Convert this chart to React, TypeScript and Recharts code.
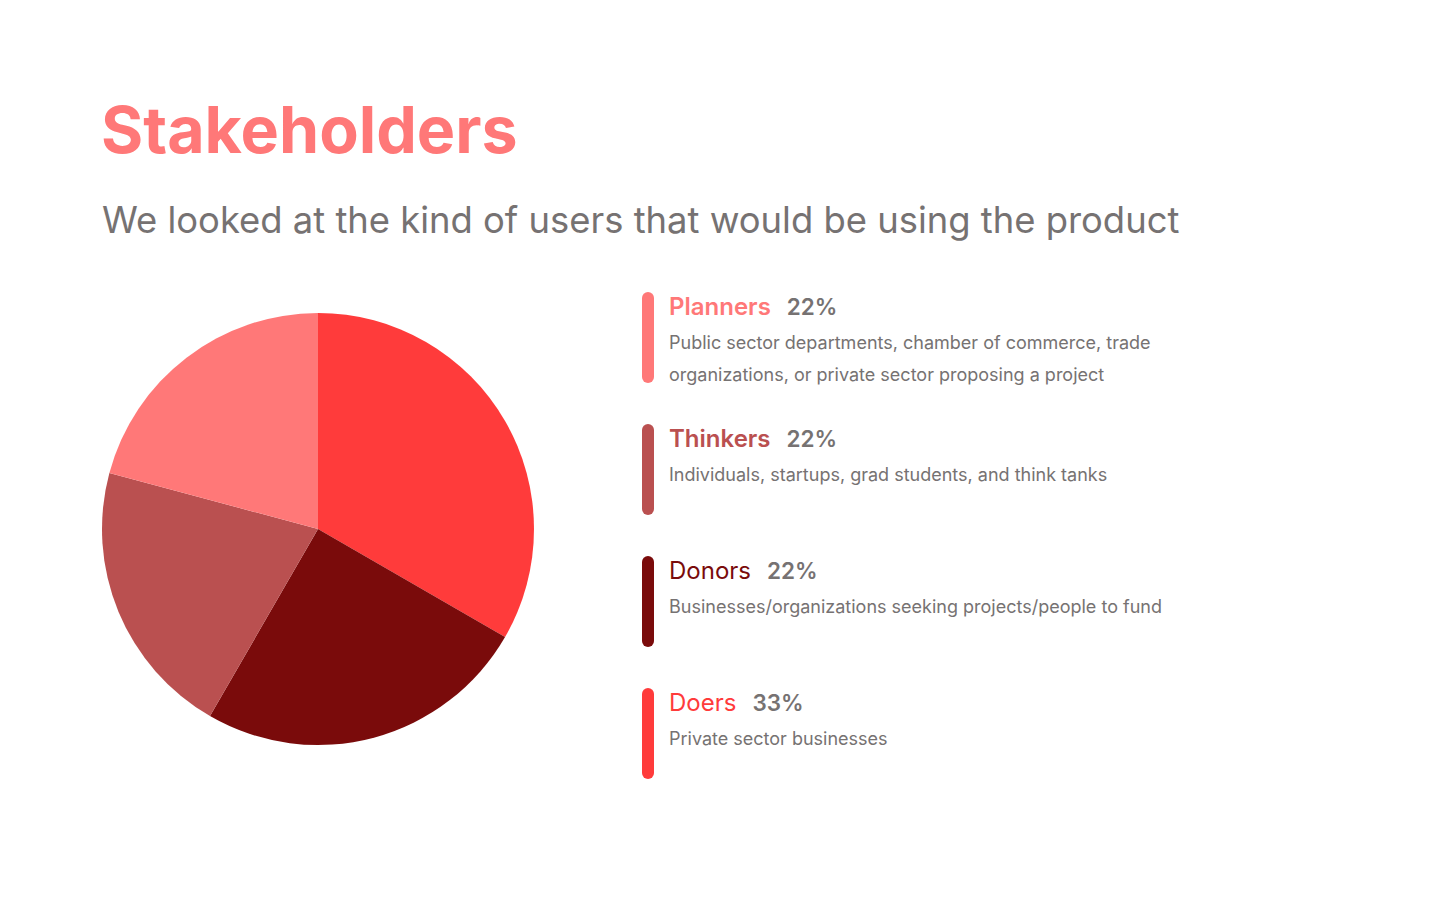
import React from "react";
import { PieChart, Pie, Cell } from "recharts";

const categories = ["Doers", "Donors", "Thinkers", "Planners"];
const sliceValues = [8, 6, 5, 5];
const sliceColors = ["#FF3B3B", "#7A0B0B", "#BA5050", "#FF7878"];

const legendNames = ["Planners", "Thinkers", "Donors", "Doers"];
const legendPercents = ["22%", "22%", "22%", "33%"];
const legendColors = ["#FF7878", "#BA5050", "#7A0B0B", "#FF3B3B"];
const legendWeights = [600, 600, 400, 400];
const legendDescriptions = [
  ["Public sector departments, chamber of commerce, trade", "organizations, or private sector proposing a project"],
  ["Individuals, startups, grad students, and think tanks"],
  ["Businesses/organizations seeking projects/people to fund"],
  ["Private sector businesses"],
];

const pieData = categories.map((name, i) => ({ name, value: sliceValues[i] }));

export default function App() {
  return (
    <div
      style={{
        position: "fixed",
        left: 0,
        top: 0,
        width: 1440,
        height: 900,
        background: "#ffffff",
        fontFamily: "Inter, 'Noto Sans', sans-serif",
        overflow: "hidden",
      }}
    >
      <div
        style={{
          position: "absolute",
          left: 101,
          top: 88,
          fontSize: 64.5,
          fontWeight: 700,
          color: "#FF7878",
          lineHeight: "84px",
        }}
      >
        Stakeholders
      </div>
      <div
        style={{
          position: "absolute",
          left: 102,
          top: 197,
          fontSize: 36.4,
          fontWeight: 400,
          color: "#767272",
          lineHeight: "46px",
          whiteSpace: "nowrap",
        }}
      >
        We looked at the kind of users that would be using the product
      </div>

      <div style={{ position: "absolute", left: 98, top: 309 }}>
        <PieChart width={440} height={440} margin={{ top: 0, right: 0, bottom: 0, left: 0 }}>
          <Pie
            data={pieData}
            dataKey="value"
            nameKey="name"
            cx={220}
            cy={220}
            outerRadius={216}
            startAngle={90}
            endAngle={-270}
            stroke="none"
            isAnimationActive={false}
          >
            {pieData.map((d, i) => (
              <Cell key={d.name} fill={sliceColors[i]} />
            ))}
          </Pie>
        </PieChart>
      </div>

      {legendNames.map((name, i) => (
        <div
          key={name}
          style={{ position: "absolute", left: 642, top: 292 + i * 132, width: 700, height: 92 }}
        >
          <div
            style={{
              position: "absolute",
              left: 0,
              top: 0,
              width: 12,
              height: 91,
              borderRadius: 6,
              background: legendColors[i],
            }}
          />
          <div
            style={{
              position: "absolute",
              left: 27,
              top: 0,
              whiteSpace: "nowrap",
              lineHeight: "30px",
            }}
          >
            <span style={{ color: legendColors[i], fontWeight: legendWeights[i], fontSize: 24 }}>{name}</span>
            <span style={{ color: "#767272", fontWeight: 600, fontSize: 22.5, marginLeft: 16 }}>
              {legendPercents[i]}
            </span>
          </div>
          <div
            style={{
              position: "absolute",
              left: 27,
              top: 35,
              fontSize: 18,
              color: "#767272",
              lineHeight: "32px",
              whiteSpace: "nowrap",
            }}
          >
            {legendDescriptions[i].map((line) => (
              <div key={line}>{line}</div>
            ))}
          </div>
        </div>
      ))}
    </div>
  );
}
